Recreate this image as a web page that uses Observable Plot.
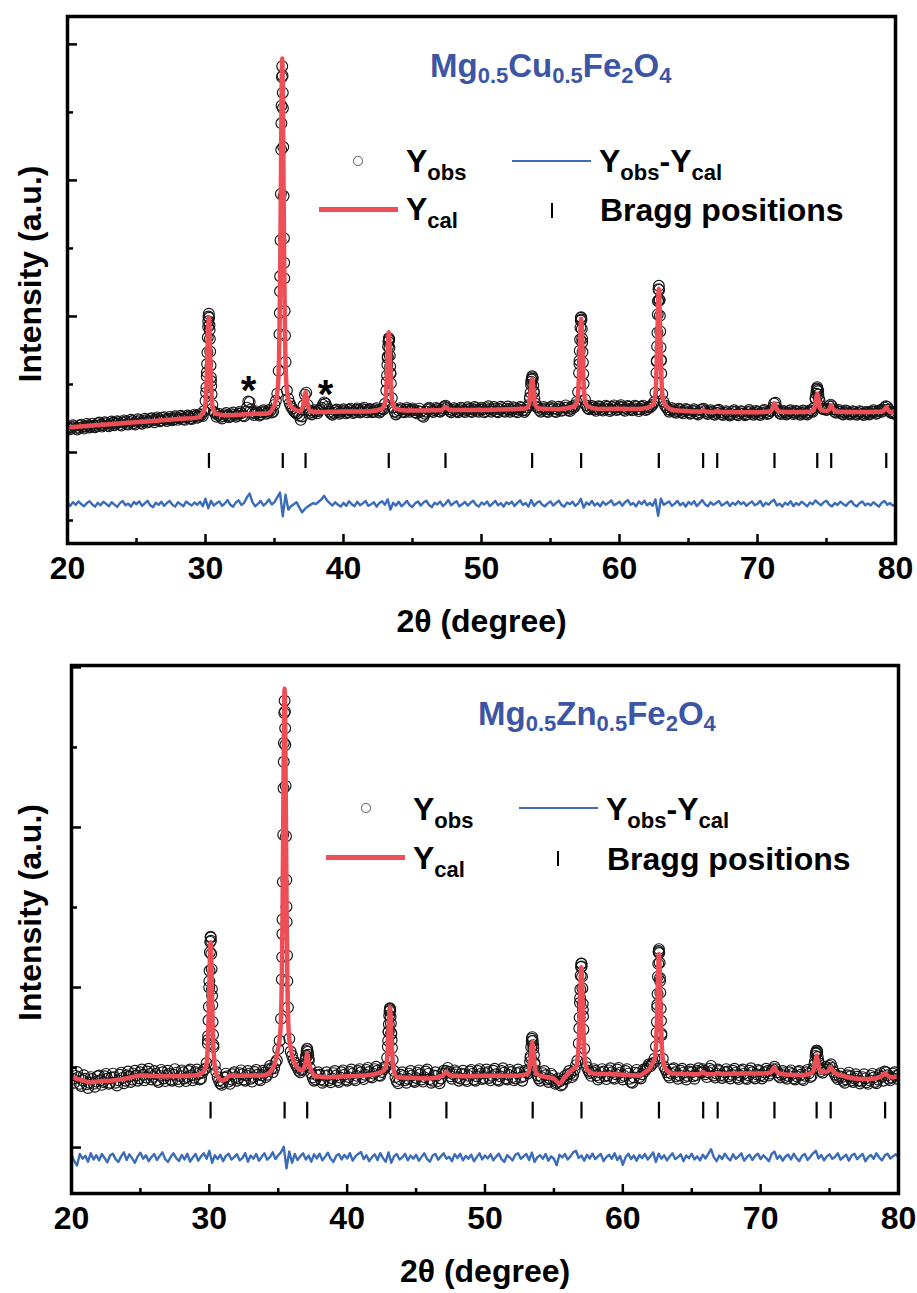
<!DOCTYPE html>
<html><head><meta charset="utf-8">
<script src="https://cdn.jsdelivr.net/npm/d3@7"></script>
<script src="https://cdn.jsdelivr.net/npm/@observablehq/plot@0.6"></script>
<style>
html,body{margin:0;padding:0;background:#fff;}
#root{position:relative;width:917px;height:1293px;overflow:hidden;font-family:"Liberation Sans",Arial,Helvetica,sans-serif;font-weight:bold;}
.abs{position:absolute;white-space:nowrap;line-height:1;}
</style></head>
<body><div id="root"></div>
<script>
// ---------------- data ----------------
const X_TICKS = [20, 30, 40, 50, 60, 70, 80];
const X_MINOR = [25, 35, 45, 55, 65, 75];
const OBS_START = 20, OBS_STEP = 0.1, DIFF_STEP = 0.2;

// Mg0.5Cu0.5Fe2O4 : observed intensity, 20..80 deg every 0.1 deg
const cuObs = [
190,178,170,185,200,192,176,168,182,198,
205,188,176,190,210,200,184,195,212,198,
186,195,214,220,204,190,200,222,215,198,
192,210,228,218,200,212,230,222,205,198,
220,236,228,210,205,224,240,232,214,206,
225,244,236,218,212,230,248,238,220,228,
246,252,236,222,240,258,248,230,236,254,
260,245,232,248,262,250,236,244,266,258,
240,252,270,262,246,240,258,272,264,250,
246,262,278,270,256,264,282,276,268,305,
380,590,965,900,525,350,300,290,262,275,
284,262,250,266,280,290,272,258,266,282,
294,278,262,270,286,300,288,272,266,300,
330,375,370,318,292,276,288,302,290,272,
280,296,310,300,284,292,312,306,294,300,
350,380,432,600,1185,2420,2645,1395,665,455,
395,362,338,322,305,296,284,290,270,240,
265,345,425,440,350,310,292,280,296,310,
300,288,305,318,330,352,368,360,335,318,
300,286,278,292,308,316,300,284,292,306,
318,304,288,296,314,322,306,290,298,316,
324,310,294,302,318,330,314,296,306,320,
312,296,300,318,326,308,294,304,322,318,
358,455,695,835,585,400,330,300,280,292,
310,326,318,300,296,314,328,316,300,310,
324,312,296,288,306,322,300,270,262,285,
300,318,330,322,306,298,312,328,320,304,
300,312,326,338,344,330,318,304,296,310,
326,318,302,296,312,330,324,306,298,314,
332,320,304,298,316,334,326,308,300,318,
330,318,296,304,326,340,320,300,312,334,
322,302,296,318,336,326,306,300,322,338,
318,300,312,332,324,304,296,316,334,328,
310,298,312,330,348,400,520,552,440,360,
335,330,312,300,318,334,322,304,298,318,
330,340,322,304,298,318,336,326,306,312,
330,346,330,312,304,322,340,330,348,372,
445,675,990,810,505,390,345,325,318,330,
342,332,316,306,322,340,334,316,308,326,
344,336,318,304,314,334,346,330,312,320,
338,348,332,314,306,324,342,336,318,310,
326,344,338,318,304,318,336,344,328,312,
320,336,330,340,352,370,440,675,1115,1122,
680,430,372,345,332,318,300,310,326,318,
300,292,306,322,316,298,288,304,320,312,
296,284,290,306,318,304,288,280,296,312,
318,322,304,290,282,296,310,300,284,278,
292,308,314,296,282,276,290,304,296,280,
272,284,300,310,298,282,274,288,304,300,
286,274,280,298,312,302,286,278,292,306,
300,284,276,290,306,312,296,282,288,304,
308,330,360,366,330,306,290,282,296,306,
296,280,288,304,310,296,282,290,306,300,
286,278,292,308,302,286,280,296,310,304,
300,330,400,470,450,380,340,322,318,322,
312,320,340,352,340,318,300,292,304,312,
300,286,280,294,308,302,288,280,290,304,
298,284,278,290,304,298,284,276,288,300,
292,280,286,300,310,298,284,290,304,312,
300,314,330,340,335,316,300,290,296,284,
290];

// finer observed points across the main Cu peaks
const cuObsPeaks = [
  {x0: 30.04, step: 0.025, y: [440,478,560,650,735,845,925,1000,1020,990,935,835,742,640,552,488,428]},
  {x0: 35.36, step: 0.025, y: [870,1025,1295,1560,1900,2225,2550,2760,2840,2770,2530,2245,1885,1575,1280,1040,860]},
  {x0: 43.13, step: 0.025, y: [518,566,645,705,780,815,840,826,770,712,632,578,508]},
  {x0: 53.51, step: 0.04,  y: [405,440,498,536,560,542,492,448,398]},
  {x0: 57.07, step: 0.025, y: [585,650,748,830,918,970,995,978,908,836,738,662,578]},
  {x0: 62.675, step: 0.025, y: [585,668,780,880,1015,1112,1200,1225,1195,1120,1005,890,772,676,580]},
  {x0: 74.21, step: 0.04,  y: [392,432,458,480,462,426,395]}
];

// Mg0.5Cu0.5Fe2O4 : calculated profile (angle, intensity)
const cuCalc = [
[20,184],[22,200],[24,215],[26,230],[28,246],[29.5,258],
[29.74,283],[29.94,323],[30.04,426],[30.10,577],[30.16,796],[30.20,934],[30.24,992],[30.28,934],[30.32,796],[30.38,577],[30.44,426],[30.54,324],[30.74,285],
[31.5,273],[33,282],[34.5,287],
[35.06,366],[35.26,506],[35.36,876],[35.42,1413],[35.48,2195],[35.52,2688],[35.56,2896],[35.60,2688],[35.64,2195],[35.70,1413],[35.76,876],[35.86,506],[36.06,366],
[36.4,320],[36.8,305],
[36.95,312],[37.13,373],[37.25,443],[37.37,372],[37.55,308],
[38,298],[40,301],[42,304],[42.78,322],
[42.98,353],[43.08,435],[43.14,555],[43.20,728],[43.24,838],[43.28,884],[43.32,838],[43.36,728],[43.42,555],[43.48,435],[43.58,353],[43.78,322],
[44.5,308],[46.5,310],[47.1,312],[47.39,335],[47.7,313],[49,313],[51,315],[53.17,323],
[53.37,335],[53.47,367],[53.53,413],[53.59,481],[53.63,524],[53.67,542],[53.71,524],[53.75,481],[53.81,413],[53.87,367],[53.97,335],[54.17,323],
[55.5,318],[56.72,338],
[56.92,374],[57.02,468],[57.08,605],[57.14,804],[57.18,930],[57.22,983],[57.26,930],[57.30,804],[57.36,605],[57.42,468],[57.52,374],[57.72,338],
[58.5,320],[60,321],[61.5,320],[62.35,344],
[62.55,391],[62.65,517],[62.71,699],[62.77,965],[62.81,1132],[62.85,1203],[62.89,1132],[62.93,965],[62.99,699],[63.05,517],[63.15,391],[63.35,344],
[64,310],[65.5,302],[65.9,300],[66.06,310],[66.25,299],[66.9,298],[67.08,306],[67.3,297],[69.5,296],
[70.93,301],[71.11,331],[71.23,362],[71.35,331],[71.53,301],
[72.5,297],[73.8,300],
[74.03,308],[74.13,327],[74.21,367],[74.29,420],[74.33,431],[74.37,420],[74.45,367],[74.53,327],[74.63,312],
[75.04,305],[75.22,322],[75.34,345],[75.46,322],[75.64,302],
[77,297],[79.0,299],
[79.21,315],[79.33,333],[79.45,315],[79.63,298],[80,296]
];

// Mg0.5Cu0.5Fe2O4 : Yobs - Ycal (offset), every 0.2 deg
const cuDiff = [
-370,-392,-365,-385,-360, -380,-395,-372,-358,-382, -398,-370,-388,-362,-378, -395,-366,-383,-400,-372,
-357,-388,-376,-398,-364, -380,-360,-392,-374,-355, -388,-402,-370,-385,-362, -392,-371,-356,-384,-398,
-366,-380,-395,-360,-377, -390,-368,-384,-362,-395, -340,-410,-355,-390,-372, -360,-392,-375,-350,-385,
-398,-368,-352,-386,-370, -330,-302,-365,-395,-378, -356,-390,-372,-345,-382, -365,-330,-295,-470,-310,
-420,-395,-380,-365,-405, -440,-415,-398,-385,-372, -380,-362,-345,-318,-352, -372,-390,-366,-384,-398,
-370,-392,-358,-380,-395, -362,-388,-374,-356,-392, -380,-366,-398,-372,-358, -384,-345,-420,-370,-390,
-362,-395,-378,-356,-388, -400,-372,-360,-390,-368, -354,-386,-402,-370,-382, -360,-394,-375,-350,-388,
-372,-358,-396,-380,-364, -390,-370,-355,-384,-398, -368,-382,-360,-394,-375, -356,-388,-372,-398,-366,
-380,-362,-394,-370,-352, -386,-372,-398,-350,-392, -370,-358,-384,-396,-374, -360,-390,-372,-354,-386,
-398,-368,-380,-362,-392, -375,-340,-405,-368,-384, -356,-390,-372,-396,-362, -384,-370,-352,-388,-376,
-362,-392,-366,-350,-384, -372,-396,-360,-380,-354, -388,-370,-392,-345,-465, -340,-385,-372,-360,-392,
-376,-356,-388,-370,-398, -364,-382,-358,-394,-372, -350,-380,-396,-366,-384, -372,-356,-390,-378,-362,
-394,-370,-384,-358,-380, -366,-392,-374,-360,-388, -378,-356,-395,-370,-384, -362,-348,-390,-376,-398,
-370,-384,-358,-394,-372, -386,-362,-378,-396,-368, -380,-352,-372,-388,-366, -355,-384,-396,-372,-386,
-362,-378,-392,-370,-356, -384,-396,-372,-360,-388, -374,-390,-366,-382,-398, -370,-356,-384,-372,-390,
-378];

const cuBragg = [30.25, 35.6, 37.25, 43.28, 47.39, 53.67, 57.22, 62.85, 66.06, 67.08, 71.23, 74.33, 75.34, 79.33];
const cuImpurity = [{x: 33.12, y: 515}, {x: 38.7, y: 485}];

// Mg0.5Zn0.5Fe2O4 : observed intensity, 20..80 deg every 0.1 deg
const znObs = [
470,430,405,448,472,440,398,385,420,452,
430,395,372,405,440,428,398,380,412,445,
450,420,392,410,445,460,430,398,405,438,
462,440,405,388,420,455,468,435,402,418,
452,475,445,410,425,462,480,450,418,432,
470,488,455,420,438,475,492,460,425,440,
478,460,422,410,448,485,470,432,415,452,
480,462,425,418,455,490,468,428,412,446,
482,470,432,415,440,478,488,452,420,436,
470,488,460,425,432,468,485,492,528,672,
1040,1312,948,628,515,472,440,418,400,392,
410,438,462,445,412,398,425,458,470,440,
418,432,465,482,458,425,418,450,478,462,
430,412,440,472,485,455,428,420,452,480,
468,440,455,490,510,492,470,495,530,545,
615,668,805,1335,2410,2620,1505,875,680,600,
575,548,530,512,498,480,470,485,490,512,
565,615,555,498,462,438,418,425,452,470,
455,425,405,418,448,470,452,420,408,432,
465,478,450,420,410,438,470,482,455,425,
418,440,472,488,462,430,420,448,478,490,
470,440,428,455,485,498,472,445,438,462,
490,505,480,452,448,472,498,490,505,562,
722,866,710,548,478,440,415,402,428,455,
470,448,420,405,430,462,478,450,418,410,
435,468,482,458,425,412,440,475,488,460,
428,405,418,450,470,448,415,402,432,465,
480,462,478,498,472,445,430,458,482,470,
440,418,432,462,480,458,425,415,448,475,
485,460,425,418,445,478,490,462,428,435,
465,488,470,435,420,448,480,492,458,425,
418,445,478,495,468,432,425,455,485,472,
440,420,432,465,488,470,438,418,445,478,
470,462,490,560,680,640,520,478,450,432,
418,440,465,478,452,425,410,432,460,448,
420,398,405,432,412,388,395,425,448,430,
458,478,462,440,455,485,515,542,650,935,
1148,862,618,530,502,480,465,448,470,490,
478,452,425,438,468,490,475,445,428,450,
482,495,470,438,430,458,488,498,468,440,
425,448,478,490,462,430,410,405,438,468,
485,465,440,432,458,488,478,492,505,520,
508,522,528,555,632,892,1228,1040,702,555,
505,488,470,450,438,462,488,495,470,445,
430,452,480,492,468,440,425,448,475,488,
470,445,430,452,478,495,472,468,490,480,
458,440,470,492,510,482,450,438,462,488,
478,452,435,448,470,490,475,445,432,455,
480,492,468,438,428,450,478,488,462,435,
428,452,480,495,470,442,432,458,485,478,
452,432,445,470,492,478,450,462,480,490,
505,490,470,448,438,455,478,465,440,430,
448,470,482,460,432,425,445,472,478,455,
430,422,448,470,485,462,440,448,490,520,
588,602,528,492,478,468,490,505,488,496,
510,520,498,472,455,440,428,445,462,440,
418,405,425,452,468,445,420,410,432,458,
442,418,400,412,440,458,432,408,398,420,
448,460,438,410,402,425,452,465,442,418,
475,470,452,430,420,438,462,470,448,430,
452];

const znObsPeaks = [
  {x0: 29.89, step: 0.025, y: [650,698,795,880,1000,1105,1220,1285,1318,1292,1210,1115,990,890,785,705,642]},
  {x0: 35.26, step: 0.025, y: [1050,1190,1425,1660,1955,2245,2528,2715,2792,2725,2515,2260,1945,1672,1410,1200,1040]},
  {x0: 36.98, step: 0.04,  y: [550,575,603,618,598,580,545]},
  {x0: 42.95, step: 0.025, y: [630,668,724,770,825,852,870,858,818,776,716,672,622]},
  {x0: 53.27, step: 0.04,  y: [535,572,628,665,690,668,620,578,530]},
  {x0: 56.84, step: 0.025, y: [745,812,905,988,1075,1128,1150,1132,1068,995,898,820,738]},
  {x0: 62.445, step: 0.025, y: [718,785,875,960,1068,1148,1220,1240,1215,1155,1060,968,868,792,712]},
  {x0: 73.94, step: 0.04,  y: [540,572,592,606,596,566,543]}
];

const znCalc = [
[20,440],[20.6,425],[21.4,408],[22.2,416],[23,419],[24,432],[25,450],[27,445],[29,450],
[29.59,476],[29.79,521],[29.89,639],[29.95,810],[30.01,1059],[30.05,1217],[30.09,1283],[30.13,1217],[30.17,1059],[30.23,808],[30.29,636],[30.39,515],[30.59,444],
[31.0,419],[31.5,448],[33,450],[34,452],[34.5,480],
[34.96,607],[35.16,733],[35.26,1064],[35.32,1543],[35.38,2241],[35.42,2681],[35.46,2867],[35.50,2681],[35.54,2241],[35.60,1543],[35.66,1064],[35.76,720],[35.96,595],
[36.3,510],[36.7,482],[36.9,505],[36.98,530],[37.1,585],[37.22,528],[37.4,480],[37.7,445],
[38.5,440],[40,445],[41.5,452],[42.4,470],[42.6,478],
[42.8,504],[42.9,562],[42.96,645],[43.02,768],[43.06,844],[43.1,877],[43.14,835],[43.18,755],[43.24,630],[43.3,545],[43.4,475],[43.6,440],
[44.5,436],[46,432],[46.9,448],[47.2,470],[47.5,450],[48.5,445],[50,448],[52,448],[52.93,456],
[53.13,467],[53.23,497],[53.29,540],[53.35,602],[53.39,641],[53.43,658],[53.47,641],[53.51,602],[53.57,540],[53.63,497],[53.73,465],[53.93,452],
[54.5,440],[55.0,430],[55.4,402],[55.8,440],[56.3,485],[56.6,502],
[56.69,539],[56.79,631],[56.85,764],[56.91,958],[56.95,1080],[56.99,1127],[57.03,1075],[57.07,950],[57.13,755],[57.19,620],[57.29,520],[57.49,478],
[58,460],[59.5,458],[60.5,452],[61.2,450],[61.6,470],[62.0,500],
[62.12,521],[62.32,559],[62.42,660],[62.48,806],[62.54,1019],[62.58,1153],[62.62,1210],[62.66,1150],[62.7,1015],[62.76,800],[62.82,650],[62.92,545],[63.12,490],
[63.6,462],[64.5,460],[65.5,458],[65.8,470],[66.1,458],[66.6,458],[66.86,465],[67.2,460],[68.5,462],[70.0,462],[70.67,468],
[70.79,475],[70.97,502],[71.15,475],[71.4,462],[72,455],[73,452],[73.6,462],[73.76,470],
[73.86,489],[73.94,520],[74.02,562],[74.06,575],[74.1,562],[74.18,520],[74.26,489],[74.4,475],[74.6,470],
[74.85,475],[74.96,485],[75.08,502],[75.2,485],[75.4,465],[76,448],[77,430],[78,428],[78.6,440],[78.85,450],[79.03,464],[79.2,450],[79.5,440],[80,445]
];

const znDiff = [
-45,-85,-112,-40,-70, -52,-88,-35,-75,-48, -80,-40,-65,-92,-50, -38,-72,-90,-55,-30,
-78,-42,-68,-95,-55, -32,-70,-48,-85,-60, -40,-78,-52,-30,-72, -90,-58,-36,-66,-84,
-46,-74,-38,-88,-62, -40,-82,-55,-35,-70, -20,-95,-48,-72,-45, -85,-52,-38,-75,-60,
-42,-80,-66,-35,-88, -50,-70,-40,-82,-58, -36,-76,-60,-30,-72, -48,-30,5,-130,-25,
-95,-40,-78,-55,-35, -75,-50,-88,-42,-68, -38,-80,-58,-32,-70, -90,-52,-40,-74,-46,
-68,-35,-82,-55,-40, -28,-72,-48,-85,-60, -42,-78,-35,-66,-88, -30,-95,-55,-40,-75,
-62,-38,-80,-50,-70, -45,-82,-58,-36,-72, -88,-50,-40,-76,-55, -35,-70,-58,-85,-42,
-66,-38,-80,-52,-70, -44,-86,-60,-36,-74, -50,-68,-42,-80,-58, -38,-72,-90,-48,-62,
-80,-45,-35,-70,-55, -40,-78,-32,-90,-60, -48,-70,-40,-82,-55, -70,-110,-45,-62,-40,
-75,-55,-30,-20,-65, -50,-82,-45,-68,-38, -72,-55,-40,-85,-60, -45,-70,-36,-78,-52,
-108,-60,-38,-72,-50, -82,-46,-66,-40,-75, -55,-30,-90,-38,-70, -48,-80,-56,-36,-72,
-60,-42,-85,-50,-66, -38,-74,-55,-80,-45, -68,-40,-10,-60,-85, -50,-72,-38,-64,-80,
-42,-70,-55,-36,-82, -60,-45,-78,-52,-38, -72,-48,-66,-85,-40, -25,-70,-50,-82,-56,
-44,-74,-38,-66,-85, -52,-40,-78,-58,-36, -20,-68,-46,-80,-55, -42,-70,-58,-36,-76,
-60,-45,-82,-50,-38, -72,-55,-40,-86,-60, -46,-70,-36,-62,-80, -50,-38,-68,-55,-42,
-58];

const znBragg = [30.09, 35.46, 37.1, 43.12, 47.2, 53.46, 57.0, 62.62, 65.83, 66.88, 71.0, 74.06, 75.08, 79.03];

// ---------------- drawing ----------------
const RED = "#ee4e55", BLUE = "#3a6cb8", TITLE_BLUE = "#3d55a5";
const FONT = '"Liberation Sans", Arial, Helvetica, sans-serif';
const grid = (x0, step, ys) => ys.map((y, i) => ({x: +(x0 + i * step).toFixed(3), y}));

function panel(c) {
  const W = 917;
  const fw = W - c.ml - c.mr, fh = c.h - c.mt - c.mb;
  const obsPts = [...grid(OBS_START, OBS_STEP, c.obs), ...c.peaks.flatMap(p => grid(p.x0, p.step, p.y))];
  const calcPts = c.calc.map(([x, y]) => ({x, y}));
  const diffPts = grid(OBS_START, DIFF_STEP, c.diff);
  return Plot.plot({
    width: W, height: c.h,
    marginLeft: c.ml, marginRight: c.mr, marginTop: c.mt, marginBottom: c.mb,
    x: {domain: [20, 80]},
    y: {domain: c.yDomain, axis: null},
    style: {fontFamily: FONT, fontWeight: "bold", fontSize: "32px", background: "transparent", color: "#000", overflow: "visible"},
    marks: [
      Plot.ruleX(c.bragg, {x: d => d, y1: c.braggY[0], y2: c.braggY[1], stroke: "#000", strokeWidth: 2.2}),
      Plot.line(diffPts, {x: "x", y: "y", stroke: BLUE, strokeWidth: 2.4, clip: true}),
      Plot.dot(obsPts, {x: "x", y: "y", r: 5.4, stroke: "#141414", strokeWidth: 1.15, fill: "none", clip: true}),
      Plot.line(calcPts, {x: "x", y: "y", stroke: RED, strokeWidth: 4.5, curve: "monotone-x", clip: true}),
      Plot.text(c.stars, {x: "x", y: "y", text: () => "*", fontSize: 40, fontWeight: "bold", fill: "#000", dy: 9}),
      Plot.tickX(X_TICKS, {x: d => d, insetTop: fh - 9, stroke: "#000", strokeWidth: 2.5}),
      Plot.tickX(X_MINOR, {x: d => d, insetTop: fh - 5, stroke: "#000", strokeWidth: 2.5}),
      Plot.tickY(c.yMajor, {y: d => d, insetRight: fw - 10, stroke: "#000", strokeWidth: 2.5}),
      Plot.tickY(c.yMinor, {y: d => d, insetRight: fw - 6, stroke: "#000", strokeWidth: 2.5}),
      Plot.axisX({ticks: X_TICKS, tickSize: 0, tickPadding: 13, label: null, tickFormat: d => String(d), fontSize: 32, fontWeight: "bold", fill: "#000"}),
      Plot.text(["2θ (degree)"], {text: d => d, frameAnchor: "bottom", dy: 88, lineAnchor: "bottom", textAnchor: "middle", fontSize: 32, fontWeight: "bold", fill: "#000"}),
      Plot.text(["Intensity (a.u.)"], {text: d => d, frameAnchor: "left", dx: c.ylabDx, dy: c.ylabDy, rotate: -90, textAnchor: "middle", lineAnchor: "middle", fontSize: 32, fontWeight: "bold", fill: "#000"}),
      Plot.frame({stroke: "#000", strokeWidth: 3.5})
    ]
  });
}

const root = document.getElementById("root");

const topChart = panel({
  obs: cuObs, peaks: cuObsPeaks, calc: cuCalc, diff: cuDiff, bragg: cuBragg, stars: cuImpurity,
  h: 646, ml: 67, mr: 22, mt: 16, mb: 103,
  yDomain: [-669, 3205], yMajor: [0, 1000, 2000, 3000], yMinor: [-500, 500, 1500, 2500],
  braggY: [-7, -118], ylabDx: -37, ylabDy: -6
});
topChart.style.position = "absolute"; topChart.style.left = "0px"; topChart.style.top = "0px";
root.append(topChart);

const botChart = panel({
  obs: znObs, peaks: znObsPeaks, calc: znCalc, diff: znDiff, bragg: znBragg, stars: [],
  h: 647, ml: 71, mr: 19, mt: 19, mb: 100,
  yDomain: [-287, 3012], yMajor: [0, 1000, 2000, 3000], yMinor: [500, 1500, 2500],
  braggY: [283, 179], ylabDx: -41, ylabDy: -17
});
botChart.style.position = "absolute"; botChart.style.left = "0px"; botChart.style.top = "646px";
root.append(botChart);

// ---------------- legends and titles (HTML overlay) ----------------
const sub = (t, size, shift) => `<span style="font-size:${size}px;position:relative;top:${shift}px">${t}</span>`;
function addText(html, left, top, size, color) {
  const d = document.createElement("div");
  d.className = "abs";
  Object.assign(d.style, {left: left + "px", top: top + "px", fontSize: size + "px", color: color || "#000"});
  d.innerHTML = html;
  root.append(d);
}
function addBox(left, top, w, h, css) {
  const d = document.createElement("div");
  d.className = "abs";
  Object.assign(d.style, {left: left + "px", top: top + "px", width: w + "px", height: h + "px"}, css);
  root.append(d);
}
function legend(o) {
  addBox(o.cx - 4.7, o.cy - 4.7, 9.4, 9.4, {border: "1px solid #555", borderRadius: "50%", boxSizing: "border-box"});
  addText(`Y${sub("obs", 22, 8)}`, o.yobsX, o.row1Top, 32);
  addBox(o.blueX, o.cy - 1.35, 79, 2.7, {background: BLUE});
  addText(`Y${sub("obs", 22, 8)}-Y${sub("cal", 22, 8)}`, o.diffX, o.row1Top, 32);
  addBox(o.redX, o.redY - 2.5, 79, 5, {background: RED});
  addText(`Y${sub("cal", 22, 8)}`, o.yobsX, o.row2Top, 32);
  addBox(o.tickX - 1.25, o.tickY, 2.5, 15, {background: "#000"});
  addText("Bragg positions", o.braggX, o.row2Top + 1, 32);
}
const formula = (m) => `Mg${sub("0.5", 22, 6)}${m}${sub("0.5", 22, 6)}Fe${sub("2", 22, 6)}O${sub("4", 22, 6)}`;

addText(formula("Cu"), 430, 49, 33, TITLE_BLUE);
legend({cx: 358, cy: 161, yobsX: 406, row1Top: 145, row2Top: 193, blueX: 512, diffX: 599, redX: 319, redY: 209, tickX: 552, tickY: 203, braggX: 600});

addText(formula("Zn"), 478, 697, 33, TITLE_BLUE);
legend({cx: 366, cy: 808, yobsX: 413, row1Top: 793, row2Top: 842, blueX: 519, diffX: 606, redX: 326, redY: 857, tickX: 558, tickY: 851, braggX: 607});
</script>
</body></html>
